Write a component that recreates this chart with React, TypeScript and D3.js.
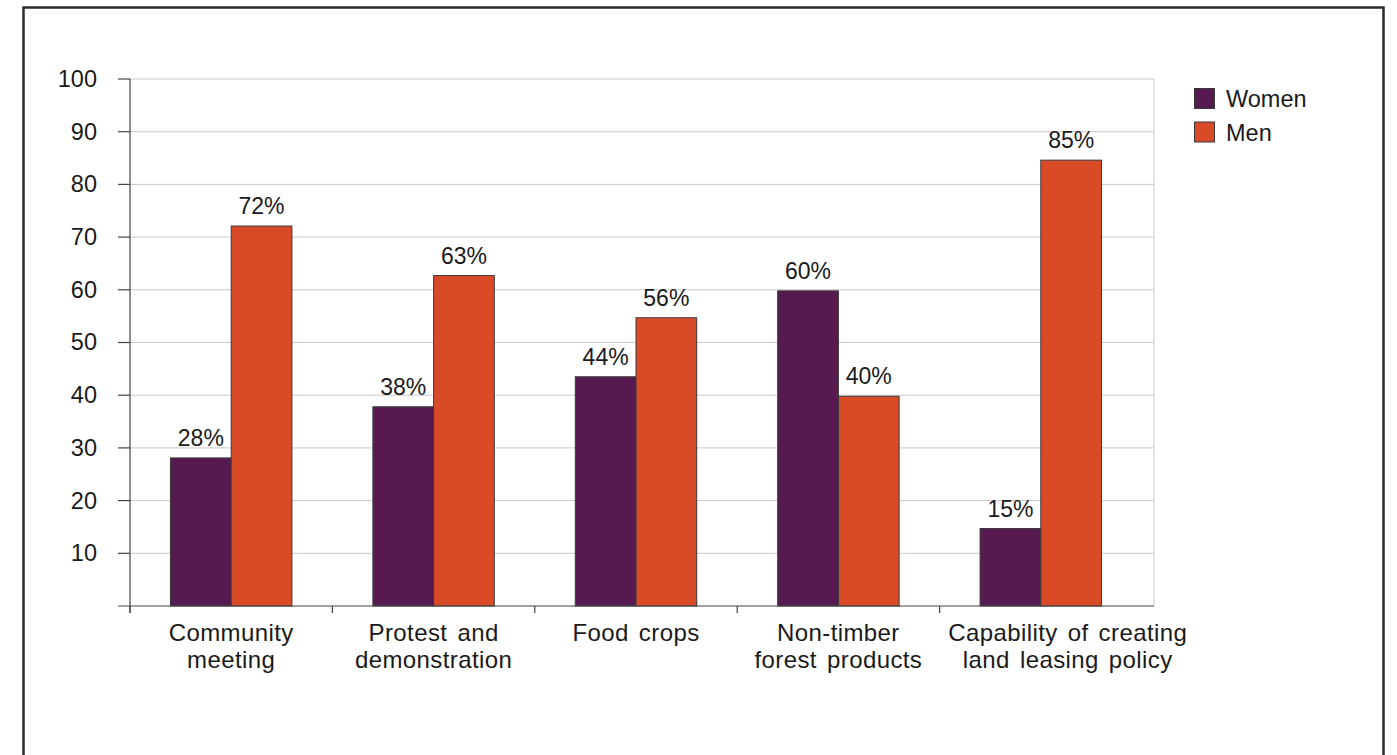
import React from "react";
import * as d3 from "d3";

const categories: string[][] = [
  ["Community", "meeting"],
  ["Protest and", "demonstration"],
  ["Food crops"],
  ["Non-timber", "forest products"],
  ["Capability of creating", "land leasing policy"],
];
const women: number[] = [28.1, 37.8, 43.5, 59.8, 14.7];
const men: number[] = [72.1, 62.7, 54.7, 39.8, 84.6];
const womenLabels: string[] = ["28%", "38%", "44%", "60%", "15%"];
const menLabels: string[] = ["72%", "63%", "56%", "40%", "85%"];
const yTicks: number[] = [10, 20, 30, 40, 50, 60, 70, 80, 90, 100];
const seriesNames: string[] = ["Women", "Men"];

const W = 1397;
const H = 755;
const FONT = "'Liberation Sans', Arial, Helvetica, sans-serif";
const COLORS = ["#561a51", "#d94b27"];
const CAT_SIZE = 24;
const LETTER = 0.4;
const WORD = 3;

function measure(text: string): number {
  if (typeof document === "undefined") return text.length * CAT_SIZE * 0.5;
  const c = document.createElement("canvas").getContext("2d");
  if (!c) return text.length * CAT_SIZE * 0.5;
  c.font = `${CAT_SIZE}px 'Liberation Sans', Arial, sans-serif`;
  const spaces = (text.match(/ /g) || []).length;
  return c.measureText(text).width + text.length * LETTER + spaces * WORD;
}

export default function App() {
  const left = 130;
  const right = 1154;
  const bandRight = 1142;
  const top = 79;
  const bottom = 606;

  const idx = categories.map((_, i) => String(i));
  const x = d3.scaleBand<string>().domain(idx).range([left, bandRight]).paddingInner(0.4).paddingOuter(0.2);
  const step = x.step();
  const x1 = d3.scaleBand<string>().domain(seriesNames).range([0, x.bandwidth()]);
  const y = d3.scaleLinear().domain([0, 100]).range([bottom, top]);

  const series = [women, men];
  const labels = [womenLabels, menLabels];

  const boundaries = d3.range(categories.length).map((i) => left + i * step);

  // category label centres, pushed right when they would crowd the previous label
  const minGap = 26;
  const labelCenters: number[] = [];
  let prevRight = -Infinity;
  categories.forEach((lines, i) => {
    const c = (x(String(i)) as number) + x.bandwidth() / 2;
    const w = Math.max(...lines.map(measure));
    let cx = c;
    if (cx - w / 2 < prevRight + minGap) cx = prevRight + minGap + w / 2;
    labelCenters.push(cx);
    prevRight = cx + w / 2;
  });

  return (
    <svg
      width={W}
      height={H}
      style={{ position: "absolute", left: 0, top: 0, background: "#fff" }}
      fontFamily={FONT}
    >
      <rect x={0} y={0} width={W} height={H} fill="#fff" />
      {/* outer frame */}
      <path d={`M23.5,${H + 5} V7.5 H1383.5 V${H + 5}`} fill="none" stroke="#2b2b2b" strokeWidth={2.5} />

      {/* gridlines */}
      {yTicks.map((t) => (
        <line key={t} x1={left} x2={right} y1={y(t)} y2={y(t)} stroke="#cdc8ca" strokeWidth={1} />
      ))}
      <line x1={right} x2={right} y1={top} y2={bottom} stroke="#cdc8ca" strokeWidth={1} />

      {/* bars */}
      {series.map((vals, s) =>
        vals.map((v, i) => (
          <rect
            key={`${s}-${i}`}
            x={(x(String(i)) as number) + (x1(seriesNames[s]) as number)}
            y={y(v)}
            width={x1.bandwidth()}
            height={y(0) - y(v)}
            fill={COLORS[s]}
            stroke="#3a3a3a"
            strokeWidth={1}
          />
        ))
      )}

      {/* value labels */}
      {series.map((vals, s) =>
        vals.map((v, i) => (
          <text
            key={`l-${s}-${i}`}
            x={(x(String(i)) as number) + (x1(seriesNames[s]) as number) + x1.bandwidth() / 2}
            y={y(v) - 12}
            textAnchor="middle"
            fontSize={23}
            fill="#1a1a1a"
          >
            {labels[s][i]}
          </text>
        ))
      )}

      {/* y axis */}
      <line x1={left} x2={left} y1={top} y2={bottom + 7} stroke="#444" strokeWidth={1.2} />
      {yTicks.map((t) => (
        <g key={`yt-${t}`}>
          <line x1={left - 12} x2={left} y1={y(t)} y2={y(t)} stroke="#444" strokeWidth={1.2} />
          <text x={97} y={y(t)} dy="0.34em" textAnchor="end" fontSize={23.5} fill="#1a1a1a">
            {t}
          </text>
        </g>
      ))}

      {/* x axis */}
      <line x1={left - 12} x2={right} y1={bottom} y2={bottom} stroke="#444" strokeWidth={1.2} />
      {boundaries.map((b, i) => (
        <line key={`xt-${i}`} x1={b} x2={b} y1={bottom} y2={bottom + 7} stroke="#444" strokeWidth={1.2} />
      ))}
      {categories.map((lines, i) => (
        <text
          key={`c-${i}`}
          x={labelCenters[i]}
          y={641}
          textAnchor="middle"
          fontSize={CAT_SIZE}
          fill="#1a1a1a"
          style={{ wordSpacing: `${WORD}px`, letterSpacing: `${LETTER}px` }}
        >
          {lines.map((ln, k) => (
            <tspan key={k} x={labelCenters[i]} dy={k === 0 ? 0 : 27}>
              {ln}
            </tspan>
          ))}
        </text>
      ))}

      {/* legend */}
      {seriesNames.map((n, s) => (
        <g key={n} transform={`translate(1194, ${88 + s * 33.5})`}>
          <rect x={0.5} y={0.5} width={20} height={20} fill={COLORS[s]} stroke="#3a3a3a" strokeWidth={1} />
          <text x={32} y={19} fontSize={23.5} fill="#1a1a1a">
            {n}
          </text>
        </g>
      ))}
    </svg>
  );
}
